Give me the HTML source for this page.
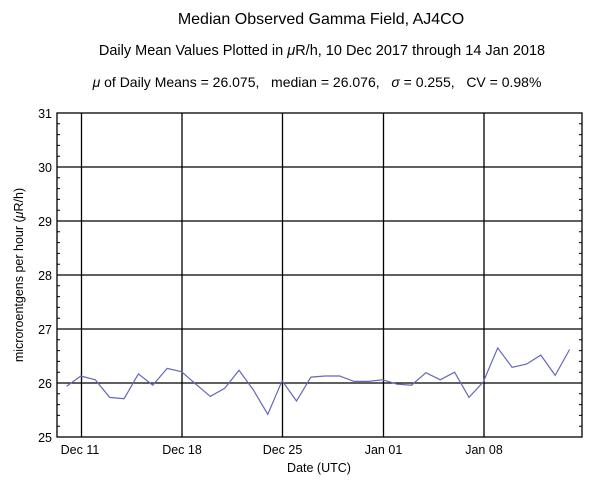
<!DOCTYPE html>
<html><head><style>body{margin:0;background:#fff}svg{display:block}text{font-family:"Liberation Sans",sans-serif;fill:#000;white-space:pre}</style></head><body>
<svg width="600" height="496" viewBox="0 0 600 496" xmlns="http://www.w3.org/2000/svg">
<rect width="600" height="496" fill="#fff"/>
<text x="321" y="24" font-size="16" text-anchor="middle">Median Observed Gamma Field, AJ4CO</text>
<text x="322" y="55" font-size="14.5" text-anchor="middle">Daily Mean Values Plotted in <tspan font-style="italic">μ</tspan>R/h, 10 Dec 2017 through 14 Jan 2018</text>
<text x="317" y="87" font-size="14" text-anchor="middle"><tspan font-style="italic">μ</tspan> of Daily Means = 26.075,&#160;&#160; median = 26.076,&#160;&#160; <tspan font-style="italic">σ</tspan> = 0.255,&#160;&#160; CV = 0.98%</text>
<g stroke="#000" stroke-width="1.3" fill="none">
<rect x="57" y="113" width="525" height="324"/>
<path d="M57 167H582M57 221H582M57 275H582M57 329H582M57 383H582"/>
<path d="M81.5 113V437M182 113V437M282.5 113V437M383.5 113V437M484 113V437"/>
</g>
<g stroke="#000" stroke-width="1">
<path d="M57 426.2h3M57 415.4h3M57 404.6h3M57 393.8h3M57 372.2h3M57 361.4h3M57 350.6h3M57 339.8h3M57 318.2h3M57 307.4h3M57 296.6h3M57 285.8h3M57 264.2h3M57 253.4h3M57 242.6h3M57 231.8h3M57 210.2h3M57 199.4h3M57 188.6h3M57 177.8h3M57 156.2h3M57 145.4h3M57 134.6h3M57 123.8h3"/>
<path d="M582 426.2h-3M582 415.4h-3M582 404.6h-3M582 393.8h-3M582 372.2h-3M582 361.4h-3M582 350.6h-3M582 339.8h-3M582 318.2h-3M582 307.4h-3M582 296.6h-3M582 285.8h-3M582 264.2h-3M582 253.4h-3M582 242.6h-3M582 231.8h-3M582 210.2h-3M582 199.4h-3M582 188.6h-3M582 177.8h-3M582 156.2h-3M582 145.4h-3M582 134.6h-3M582 123.8h-3"/>
</g>
<g font-size="12.5" text-anchor="end">
<text x="52" y="442">25</text><text x="52" y="388">26</text><text x="52" y="334">27</text><text x="52" y="280">28</text><text x="52" y="226">29</text><text x="52" y="172">30</text><text x="52" y="118">31</text>
</g>
<g font-size="12.5" text-anchor="middle">
<text x="80" y="454">Dec 11</text><text x="182" y="454">Dec 18</text><text x="282.5" y="454">Dec 25</text><text x="383.5" y="454">Jan 01</text><text x="484" y="454">Jan 08</text>
<text x="319" y="472">Date (UTC)</text>
</g>
<text transform="translate(23,275) rotate(-90)" font-size="12.5" text-anchor="middle">microroentgens per hour (<tspan font-style="italic">μ</tspan>R/h)</text>
<polyline fill="none" stroke="#6666bb" stroke-width="1.2" points="
66.6,386.2 80.9,376.0 95.3,379.8 109.7,397.4 124.1,398.7 138.4,373.9 152.8,385.2 167.2,368.4 181.5,371.7 195.9,384.2 210.3,396.4 224.7,388.3 239.0,370.3 253.4,390.0 267.8,414.3 282.1,380.8 296.5,401.0 310.9,377.1 325.3,376.0 339.6,376.0 354.0,381.4 368.4,381.4 382.7,379.8 397.1,384.1 411.5,385.2 425.9,372.7 440.2,379.8 454.6,372.2 469.0,397.4 483.3,381.9 497.7,347.9 512.1,367.3 526.5,364.1 540.8,355.1 555.2,375.4 569.6,349.5"/>
</svg>
</body></html>
